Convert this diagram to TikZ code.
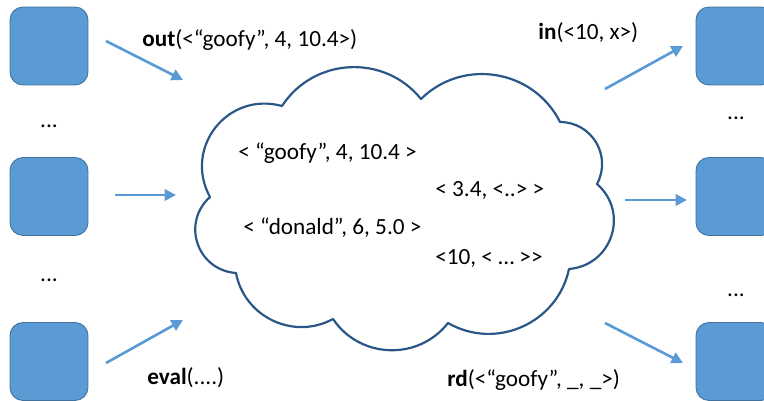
\documentclass[tikz,border=0pt]{standalone}
\usepackage{fontspec}
\setmainfont{Carlito}
\usetikzlibrary{arrows.meta}
\definecolor{boxblue}{HTML}{5B9BD5}
\definecolor{boxedge}{HTML}{41719C}
\definecolor{cloudblue}{HTML}{2A5788}
\begin{document}
\begin{tikzpicture}[x=0.02cm,y=0.02cm,
    proc/.style={draw=boxedge,fill=boxblue,rectangle,rounded corners=0.26cm,minimum size=1.56cm,line width=0.5pt},
    lab/.style={inner sep=0pt,anchor=west,font=\fontsize{13.2}{16}\selectfont},
    flow/.style={boxblue,line width=1.5pt,-{Triangle[length=6.5pt,width=6.5pt]}},
    cloudline/.style={draw=cloudblue,line width=1.25pt,line cap=round,line join=round},
    bump/.style={bend left=54,looseness=1.07},
    bumpmid/.style={bend left=59,looseness=1.13},
    bumpbig/.style={bend left=67,looseness=1.24}]
        \useasboundingbox (0,0) rectangle (764,-401);
        %% Tuple space (cloud)
        \coordinate (c1) at (282,-106);
        \coordinate (c2) at (421,-99);
        \coordinate (c3) at (560,-122);
        \coordinate (c4) at (597,-184);
        \coordinate (c5) at (569,-269);
        \coordinate (c6) at (448,-323);
        \coordinate (c7) at (333,-319);
        \coordinate (c8) at (236,-273);
        \coordinate (c9) at (210,-197);
        \draw[cloudline] (c1) to[bump] (c2) to[bump] (c3) to[bumpmid] (c4) to[bumpbig] (c5)
            to[bump] (c6) to[bump] (c7) to[bump] (c8) to[bumpbig] (c9) to[bumpbig] (c1);
        %% Tuples
        \node[lab] (tupA) at (238,-153) {< “goofy”, 4, 10.4 >};
        \node[lab] (tupB) at (435,-190) {< 3.4, <..> >};
        \node[lab] (tupC) at (243,-228) {< “donald”, 6, 5.0 >};
        \node[lab] (tupD) at (435,-258) {<10, < … >{}>};
        %% Processes
        \node[proc] (srcA) at (49,-46) {};
        \node[proc] (srcB) at (49,-196.5) {};
        \node[proc] (srcC) at (49,-361.5) {};
        \node[proc] (dstA) at (735,-46) {};
        \node[proc] (dstB) at (735,-196.5) {};
        \node[proc] (dstC) at (735,-361.5) {};
        \node[lab,anchor=base] (dotsL1) at (49,-128) {...};
        \node[lab,anchor=base] (dotsL2) at (49,-282) {...};
        \node[lab,anchor=base] (dotsR1) at (736,-120) {...};
        \node[lab,anchor=base] (dotsR2) at (736,-297) {...};
        %% Operations
        \coordinate (outS) at (106,-41);  \coordinate (outE) at (183,-80);
        \coordinate (midS) at (115,-195); \coordinate (midE) at (176,-195);
        \coordinate (evalS) at (106,-363); \coordinate (evalE) at (183,-320);
        \coordinate (inS) at (605,-89);   \coordinate (inE) at (683,-46);
        \coordinate (rmS) at (625,-200);  \coordinate (rmE) at (687,-200);
        \coordinate (rdS) at (605,-323);  \coordinate (rdE) at (683,-363);
        \draw[flow] (outS) -- (outE);
        \draw[flow] (midS) -- (midE);
        \draw[flow] (evalS) -- (evalE);
        \draw[flow] (inS) -- (inE);
        \draw[flow] (rmS) -- (rmE);
        \draw[flow] (rdS) -- (rdE);
        \node[lab] (outL) at (142,-40) {\textbf{out}(<“goofy”, 4, 10.4>)};
        \node[lab] (inL) at (538,-33) {\textbf{in}(<10, x>)};
        \node[lab] (evalL) at (147,-378) {\textbf{eval}(....)};
        \node[lab] (rdL) at (447,-380) {\textbf{rd}(<“goofy”, \_, \_>)};
    \end{tikzpicture}
\end{document}
